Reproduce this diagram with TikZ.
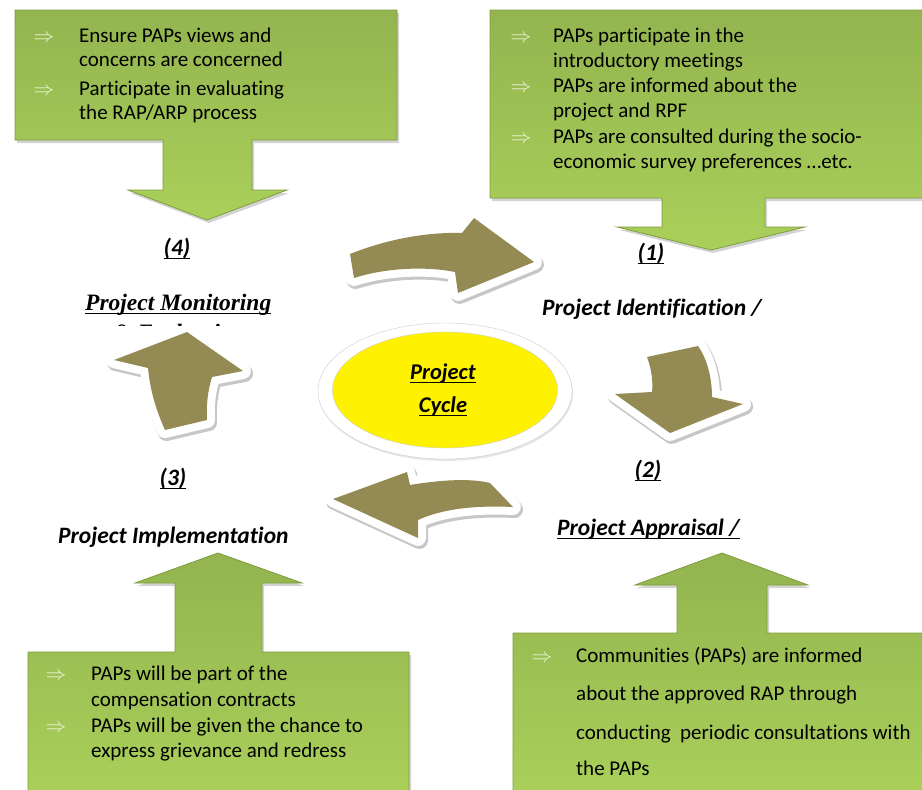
\documentclass[tikz,border=0pt]{standalone}
\usepackage{fontspec}
\setmainfont[Ligatures=NoCommon]{Carlito}
\newfontfamily\serifbi{Liberation Serif}
\usetikzlibrary{shadows,shapes.geometric}
\definecolor{boxgreen}{HTML}{93B44F}
\definecolor{boxlight}{HTML}{AAD05A}
\definecolor{boxedge}{HTML}{7E9C3E}
\definecolor{cycleolive}{HTML}{948A54}
\definecolor{impgreen}{HTML}{EEF5DC}
\tikzset{
  callout/.style={top color=boxgreen,bottom color=boxlight,draw=boxedge,line width=0.8pt,
    drop shadow={opacity=0.35,shadow xshift=2pt,shadow yshift=-3pt}},
  bent/.style={fill=cycleolive,
    preaction={draw=black!22,line width=17pt,line join=round,transform canvas={xshift=1.5pt,yshift=-2.5pt}},
    preaction={draw=white,line width=16pt,line join=round}},
  boxtext/.style={font=\fontsize{21}{25}\selectfont,inner sep=0pt,anchor=base west},
  imp/.style={text=impgreen,font=\fontsize{21}{25}\selectfont,inner sep=0pt,anchor=base},
  stage/.style={font=\fontsize{23.5}{27}\selectfont\bfseries\itshape,inner sep=0pt,anchor=base},
  uline/.style={line width=1.6pt}
}
\begin{document}
\begin{tikzpicture}[x=1pt,y=-1pt]
\useasboundingbox (0,0) rectangle (922,790);
% callout boxes
\path[callout] (15,10)--(397,10)--(397,140)--(252,140)--(252,190)--(287,190)--(207,220)--(128,190)--(163,190)--(163,140)--(15,140)--cycle;
\path[callout] (490,10)--(940,10)--(940,198)--(765,198)--(765,227)--(805,227)--(711,250)--(617,227)--(662,227)--(662,198)--(490,198)--cycle;
\path[callout] (28,652)--(175,652)--(175,583)--(135,583)--(218,553)--(302,583)--(262,583)--(262,652)--(409,652)--(409,800)--(28,800)--cycle;
\path[callout] (513,633)--(677,633)--(677,585)--(635,585)--(722,553)--(808,585)--(767,585)--(767,633)--(940,633)--(940,800)--(513,800)--cycle;
% box texts
\foreach \ly/\lt [count=\i] in {42/{Ensure PAPs views and},66/{concerns are concerned},95/{Participate in evaluating},119/{the RAP/ARP process}}{\node[boxtext](mon\i) at (79,\ly){\lt};}
\foreach \ly [count=\i] in {42,95}{\node[imp](monimp\i) at (44,\ly){$\Rightarrow$};}
\foreach \ly/\lt [count=\i] in {42/{PAPs participate in the},67/{introductory meetings},92/{PAPs are informed about the},117/{project and RPF},143/{PAPs are consulted during the socio-},168/{economic survey preferences \dots etc.}}{\node[boxtext](idn\i) at (553,\ly){\lt};}
\foreach \ly [count=\i] in {42,92,143}{\node[imp](idnimp\i) at (521,\ly){$\Rightarrow$};}
\foreach \ly/\lt [count=\i] in {680/{PAPs will be part of the},706/{compensation contracts},732/{PAPs will be given the chance to},757/{express grievance and redress}}{\node[boxtext](imp\i) at (91,\ly){\lt};}
\foreach \ly [count=\i] in {680,732}{\node[imp](impimp\i) at (56,\ly){$\Rightarrow$};}
\foreach \ly/\lt [count=\i] in {662/{Communities (PAPs) are informed},700/{about the approved RAP through},739/{conducting\ \ periodic consultations with},775/{the PAPs}}{\node[boxtext](apr\i) at (576,\ly){\lt};}
\node[imp](aprimp1) at (542,662){$\Rightarrow$};
% bent arrows
\path[bent] (350,254) .. controls (390,238) and (430,232) .. (462,233) -- (474,218) -- (534,262) -- (458,293) -- (455,272) .. controls (425,266) and (385,268) .. (354,278) -- cycle;
\path[bent] (647,357) .. controls (652,370) and (653,383) .. (652,392) -- (615,394) -- (670,433) -- (743,404) -- (712,397) .. controls (712,380) and (708,360) .. (698,346) -- cycle;
\path[bent] (333,499) -- (407,472) -- (410,485) .. controls (440,480) and (470,478) .. (490,483) -- (513,507) .. controls (470,505) and (440,510) .. (418,520) -- (418,538) -- cycle;
\path[bent] (187,332) -- (114,360) -- (148,368) .. controls (150,390) and (156,410) .. (165,430) -- (207,420) .. controls (206,405) and (208,390) .. (212,377) -- (243,371) -- cycle;
% project cycle
\node[ellipse,draw=black!20,fill=white,minimum width=254pt,minimum height=136pt,drop shadow={opacity=0.2,shadow xshift=1pt,shadow yshift=-2pt}](pcring) at (445,391){};
\node[ellipse,draw=white!80!black,fill=yellow,minimum width=225pt,minimum height=116pt](pc) at (445,390){};
\node[stage,font=\fontsize{22.5}{27}\selectfont\bfseries\itshape](pc1) at (443,379){Project};
\node[stage,font=\fontsize{22.5}{27}\selectfont\bfseries\itshape](pc2) at (443,412){Cycle};
% stage labels
\node[stage](s4) at (177,255){(4)};
\node[stage](s1) at (651,260){(1)};
\node[stage](s2) at (648,477){(2)};
\node[stage](s3) at (173,485){(3)};
\begin{scope}
\clip (530,290) rectangle (790,318);
\node[stage,anchor=base west](idt) at (542,315){Project Identification /};
\end{scope}
\node[stage,anchor=base west](aprt) at (557,535){Project Appraisal /};
\node[stage,anchor=base west](impt) at (58,543){Project Implementation};
\node[anchor=base west,inner sep=0pt,font=\fontsize{23.5}{27}\selectfont\serifbi\bfseries\itshape](mont) at (85,310){Project Monitoring};
\begin{scope}
\clip (80,321.5) rectangle (290,325.5);
\node[anchor=base,inner sep=0pt,font=\fontsize{23.5}{27}\selectfont\serifbi\bfseries\itshape](mont2) at (179,340){\& Evaluation};
\end{scope}
\foreach \n in {pc1,pc2,s4,s1,s2,s3,aprt,mont}{\draw[uline]([yshift=-3.5pt]\n.base west)--([yshift=-3.5pt]\n.base east);}
\end{tikzpicture}
\end{document}
